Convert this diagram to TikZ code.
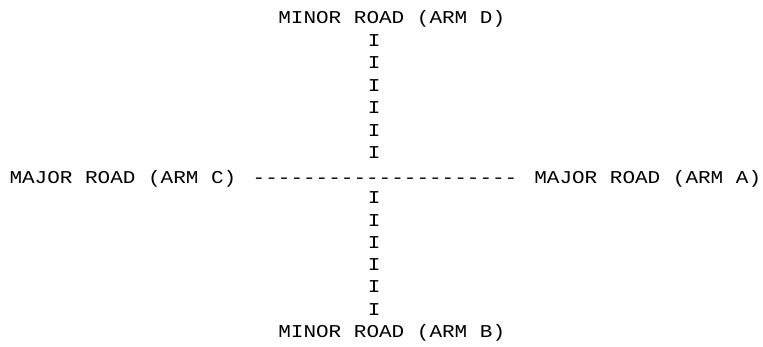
\documentclass[tikz,border=0pt]{standalone}
\usepackage{fontspec}
\setmonofont{Liberation Mono}
\newcommand\asctxt[1]{\scalebox{1}[0.86]{#1}}
\begin{document}
\begin{tikzpicture}[x=1pt,y=-1pt,
  asc/.style={font=\ttfamily\fontsize{21}{22}\selectfont, inner sep=0pt, outer sep=0pt, anchor=base west, text=black}]
\useasboundingbox[fill=white] (0,0) rectangle (763,347);
\def\cw{12.8}
\def\xo{9.5}
% top label (row 0)
\node[asc] (labD) at ({\xo+21*\cw},24) {\asctxt{MINOR ROAD (ARM D)}};
% upper stem (rows 1..6)
\foreach \r in {1,...,6}{
  \node[asc] (d\r) at ({\xo+28*\cw},{24+22.45*\r}) {\asctxt{I}};
}
% main row (row 7)
\node[asc] (labC) at ({\xo},183.5) {\asctxt{MAJOR ROAD (ARM C)}};
\node[asc] (road) at ({\xo+19*\cw},183.5) {\asctxt{---------------------}};
\node[asc] (labA) at ({\xo+41*\cw},183.5) {\asctxt{MAJOR ROAD (ARM A)}};
% lower stem (rows 8..13)
\foreach \r in {1,...,6}{
  \node[asc] (b\r) at ({\xo+28*\cw},{204+22.25*(\r-1)}) {\asctxt{I}};
}
% bottom label (row 14)
\node[asc] (labB) at ({\xo+21*\cw},337.3) {\asctxt{MINOR ROAD (ARM B)}};
\end{tikzpicture}
\end{document}
